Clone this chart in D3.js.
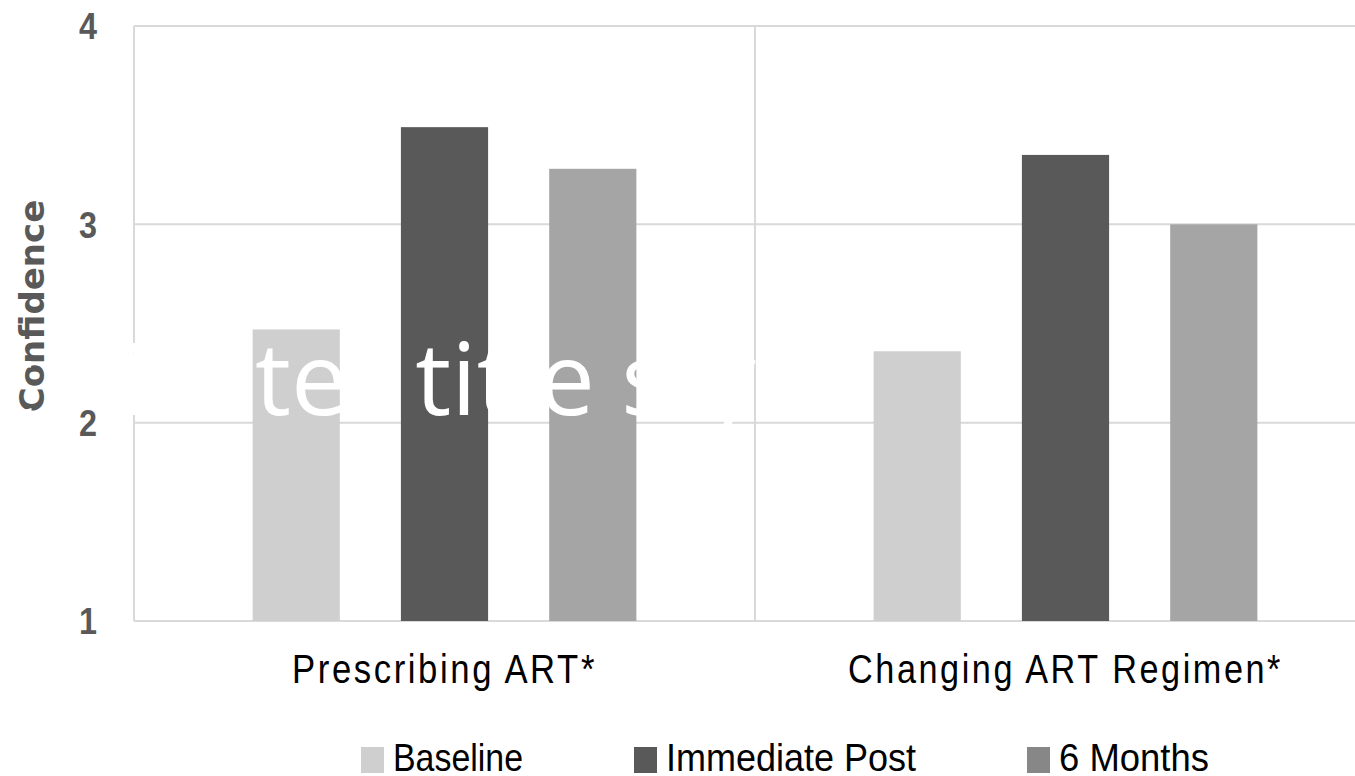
<!DOCTYPE html>
<html>
<head>
<meta charset="utf-8">
<script src="https://cdn.jsdelivr.net/npm/d3@7"></script>
<style>
  html, body { margin: 0; padding: 0; background: #ffffff; overflow: hidden; }
  svg { display: block; }
</style>
</head>
<body>
<svg id="chart" width="1355" height="776"></svg>
<script>
// Mean confidence ratings by task and survey time point
const categories = ["Prescribing ART*", "Changing ART Regimen*"];
const seriesNames = ["Baseline", "Immediate Post", "6 Months"];
const baselineValues = [2.47, 2.36];
const immediatePostValues = [3.49, 3.35];
const sixMonthValues = [3.28, 3.00];
const yTicks = [1, 2, 3, 4];
const barColors = ["#d0cfd0", "#595959", "#a5a5a5"];
const legendColors = ["#cfcfcf", "#595959", "#878787"];
const yTitle = "Confidence";
const slideTitle = "Click to edit Master title style";

const seriesValues = [baselineValues, immediatePostValues, sixMonthValues];

const svg = d3.select("#chart");
const plot = { left: 134, right: 1376, top: 26, bottom: 621 };
const labelFont = "'Liberation Sans', Arial, sans-serif";

const x0 = d3.scaleBand()
  .domain(categories)
  .range([plot.left, plot.right])
  .paddingInner(0)
  .paddingOuter(0);

const x1 = d3.scaleBand()
  .domain(seriesNames)
  .range([0, x0.bandwidth()])
  .paddingInner(0.412)
  .paddingOuter(0.8);

const y = d3.scaleLinear()
  .domain([1, 4])
  .range([plot.bottom, plot.top]);

const gridColor = "#d9d9d9";

// horizontal gridlines
svg.append("g")
  .selectAll("line")
  .data(yTicks)
  .join("line")
  .attr("x1", plot.left)
  .attr("x2", plot.right)
  .attr("y1", d => y(d))
  .attr("y2", d => y(d))
  .attr("stroke", gridColor)
  .attr("stroke-width", 2);

// vertical category separators
const sepX = [plot.left].concat(categories.map(c => x0(c) + x0.bandwidth()));
svg.append("g")
  .selectAll("line")
  .data(sepX)
  .join("line")
  .attr("x1", d => d)
  .attr("x2", d => d)
  .attr("y1", plot.top)
  .attr("y2", plot.bottom)
  .attr("stroke", gridColor)
  .attr("stroke-width", 2);

// bars
const barData = [];
categories.forEach((c, ci) => {
  seriesNames.forEach((s, si) => {
    barData.push({ cat: c, series: s, si: si, value: seriesValues[si][ci] });
  });
});

svg.append("g")
  .selectAll("rect")
  .data(barData)
  .join("rect")
  .attr("x", d => x0(d.cat) + x1(d.series))
  .attr("width", x1.bandwidth())
  .attr("y", d => y(d.value))
  .attr("height", d => y(1) - y(d.value))
  .attr("fill", d => barColors[d.si]);

// y axis tick labels
const yAxis = d3.axisLeft(y).tickValues(yTicks).tickSize(0).tickPadding(0).tickFormat(d3.format("d"));
const yg = svg.append("g")
  .attr("transform", `translate(97,0)`)
  .call(yAxis);
yg.select(".domain").remove();
yg.selectAll("text")
  .attr("font-family", labelFont)
  .attr("font-weight", "bold")
  .attr("font-size", 36)
  .attr("fill", "#595959")
  .attr("dy", "0.36em")
  .attr("textLength", 18)
  .attr("lengthAdjust", "spacingAndGlyphs");

// y axis title
svg.append("text")
  .attr("transform", "translate(44,306) rotate(-90)")
  .attr("text-anchor", "middle")
  .attr("font-family", "'DejaVu Sans', sans-serif")
  .attr("font-weight", "bold")
  .attr("font-size", 34)
  .attr("fill", "#595959")
  .text(yTitle);

// category labels: narrow, letter-spaced
const catWidths = { "Prescribing ART*": 305, "Changing ART Regimen*": 435 };
const xAxis = d3.axisBottom(x0).tickSize(0).tickPadding(0);
const xg = svg.append("g")
  .attr("transform", `translate(0,683)`)
  .call(xAxis);
xg.select(".domain").remove();
xg.selectAll("text")
  .attr("font-family", labelFont)
  .attr("font-size", 40)
  .attr("letter-spacing", 3)
  .attr("fill", "#000000")
  .attr("dy", 0)
  .attr("textLength", d => catWidths[d])
  .attr("lengthAdjust", "spacingAndGlyphs");

// legend
const legendWidths = [130, 250, 150];
const legend = svg.append("g");
let lx = 361;
seriesNames.forEach((s, i) => {
  legend.append("rect")
    .attr("x", lx)
    .attr("y", 747)
    .attr("width", 23)
    .attr("height", 26)
    .attr("fill", legendColors[i]);
  legend.append("text")
    .attr("x", lx + 32)
    .attr("y", 771)
    .attr("font-family", labelFont)
    .attr("font-size", 39)
    .attr("fill", "#000000")
    .attr("textLength", legendWidths[i])
    .attr("lengthAdjust", "spacingAndGlyphs")
    .text(s);
  lx += 32 + legendWidths[i] + 111;
});

// slide title placeholder, white, sitting over the chart
const title = svg.append("text")
  .attr("y", 415)
  .attr("font-family", "'Open Sans', sans-serif")
  .attr("font-size", 101)
  .attr("fill", "#ffffff")
  .text(slideTitle);
const anchorIdx = slideTitle.indexOf("ter title");
const pre = title.node().getSubStringLength(0, anchorIdx);
title.attr("x", 255 - pre);
</script>
</body>
</html>
